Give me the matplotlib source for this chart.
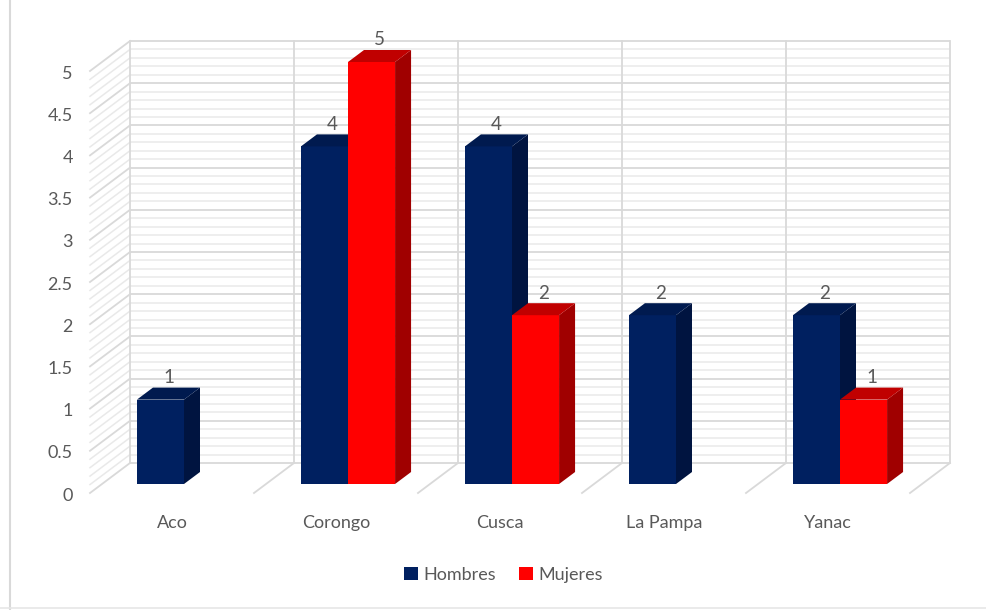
# 3D-style clustered bar chart, Hombres / Mujeres per lugar
import numpy as np
import matplotlib.pyplot as plt
from matplotlib.patches import Polygon, Patch
from matplotlib.lines import Line2D

plt.rcParams['font.family'] = ['Lato', 'DejaVu Sans']

lugares = ['Aco', 'Corongo', 'Cusca', 'La Pampa', 'Yanac']
hombres = [1, 4, 4, 2, 2]
mujeres = [np.nan, 5, 2, np.nan, 1]   # blank cells -> no bar, no label
y_ticks = [0, 0.5, 1, 1.5, 2, 2.5, 3, 3.5, 4, 4.5, 5]

series = [('Hombres', hombres, ('#002060', '#001a4f', '#001440')),
          ('Mujeres', mujeres, ('#ff0000', '#c00000', '#a00000'))]

# oblique projection: depth d in [0, 1] moves things up and to the right
KX = 40 / 164
KY = 30 / 84.4
BAR_W = 0.287
D_FRONT, D_BACK = 0.30, 0.70
grid_major = '#d9d9d9'
grid_minor = '#e9e9e9'
txt = '#595959'

fig = plt.figure(figsize=(9.87, 6.1), dpi=100)
ax = fig.add_axes([0, 0, 1, 1])
ax.set_xlim(-90 / 164, (987 - 90) / 164)
ax.set_ylim((493 - 610) / 84.4, 493 / 84.4)
ax.axis('off')

n = len(lugares)
ymax = y_ticks[-1]

# walls: back wall lines, side wall lines, floor diagonals
for v in np.round(np.arange(0, ymax + 0.001, 0.1), 2):
    major = abs(v * 2 - round(v * 2)) < 1e-6
    c = grid_major if major else grid_minor
    lw = 1.3 if major else 1.1
    ax.plot([KX, n + KX], [v + KY, v + KY], color=c, lw=lw, zorder=1 if major else 0.5,
            solid_capstyle='butt')
    ax.plot([0, KX], [v, v + KY], color=c, lw=lw, zorder=1 if major else 0.5)
for k in range(n + 1):
    ax.plot([k + KX, k + KX], [KY, ymax + KY], color=grid_major, lw=1.3, zorder=1)
    if k > 0:
        ax.plot([k, k + KX], [0, KY], color=grid_major, lw=1.3, zorder=1)

# bars
dx = (D_BACK - D_FRONT) * KX
dy = (D_BACK - D_FRONT) * KY
for s, (name, vals, (c_front, c_top, c_side)) in enumerate(series):
    for i, v in enumerate(vals):
        if np.isnan(v):
            continue
        xl = i + 0.5 - BAR_W + s * BAR_W + D_FRONT * KX
        xr = xl + BAR_W
        y0 = D_FRONT * KY
        ax.bar(xl, v, width=BAR_W, bottom=y0, align='edge', color=c_front,
               linewidth=0, zorder=3 + i * 2 + s)
        ax.add_patch(Polygon([(xr, y0), (xr, y0 + v), (xr + dx, y0 + v + dy), (xr + dx, y0 + dy)],
                             closed=True, facecolor=c_side, lw=0, zorder=3 + i * 2 + s))
        ax.add_patch(Polygon([(xl, y0 + v), (xr, y0 + v), (xr + dx, y0 + v + dy), (xl + dx, y0 + v + dy)],
                             closed=True, facecolor=c_top, lw=0, zorder=3 + i * 2 + s))
        ax.text((xl + xr) / 2 + dx / 2, y0 + v + dy + 0.02, f'{v:g}', ha='center', va='bottom',
                fontsize=13.5, color=txt, zorder=20)

# value axis labels
for t in y_ticks:
    ax.text(-0.105, t - 0.03, f'{t:g}', ha='right', va='center', fontsize=13, color=txt)

# category labels
for i, name in enumerate(lugares):
    ax.text(i + 0.5, -0.36, name, ha='center', va='center', fontsize=13, color=txt)

# legend
handles = [Patch(facecolor=c[0], edgecolor='none', label=nm) for nm, _, c in series]
fig.legend(handles=handles, loc='center', bbox_to_anchor=(0.51, 1 - 575 / 610), ncol=2,
           frameon=False, fontsize=13, labelcolor=txt, handlelength=0.75, handleheight=0.75,
           handletextpad=0.3, columnspacing=1.3)

# chart frame (left and bottom edges visible in the crop)
fig.add_artist(Line2D([9.5 / 987, 9.5 / 987], [0, 1], color='#d9d9d9', lw=1.5))
fig.add_artist(Line2D([0, 1], [2 / 610, 2 / 610], color='#e6e6e6', lw=1.2))

fig.savefig('out.png', dpi=100)
